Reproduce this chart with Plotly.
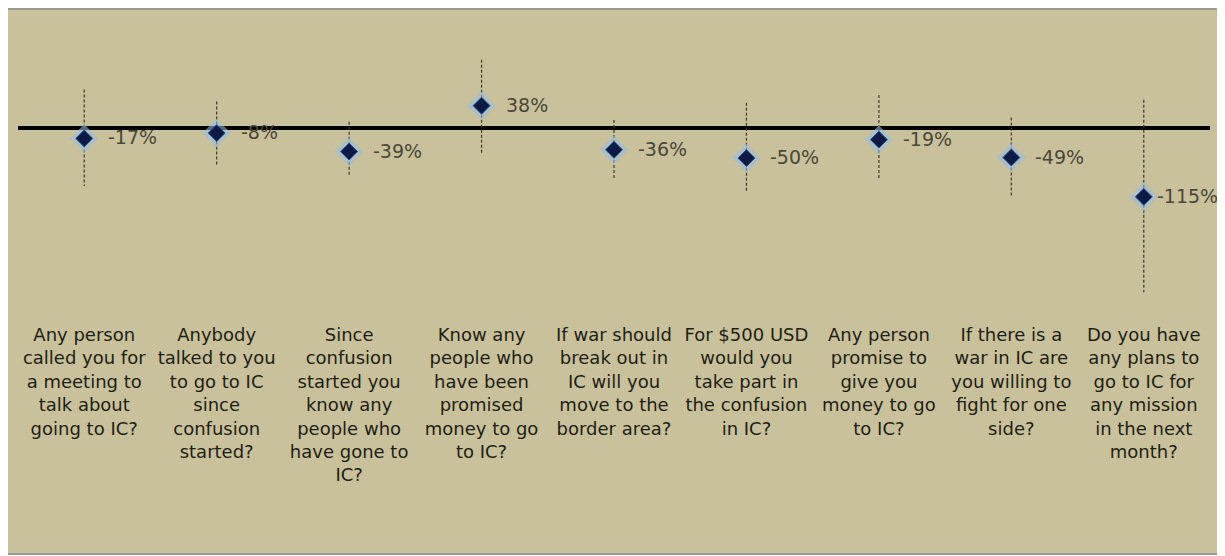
import plotly.graph_objects as go

# ---- data ----
categories = ["Q1", "Q2", "Q3", "Q4", "Q5", "Q6", "Q7", "Q8", "Q9"]
tick_labels = [
    "Any person<br>called you for<br>a meeting to<br>talk about<br>going to IC?",
    "Anybody<br>talked to you<br>to go to IC<br>since<br>confusion<br>started?",
    "Since<br>confusion<br>started you<br>know any<br>people who<br>have gone to<br>IC?",
    "Know any<br>people who<br>have been<br>promised<br>money to go<br>to IC?",
    "If war should<br>break out in<br>IC will you<br>move to the<br>border area?",
    "For $500 USD<br>would you<br>take part in<br>the confusion<br>in IC?",
    "Any person<br>promise to<br>give you<br>money to go<br>to IC?",
    "If there is a<br>war in IC are<br>you willing to<br>fight for one<br>side?",
    "Do you have<br>any plans to<br>go to IC for<br>any mission<br>in the next<br>month?",
]
values = [-17, -8, -39, 38, -36, -50, -19, -49, -115]
value_labels = ["-17%", "-8%", "-39%", "38%", "-36%", "-50%", "-19%", "-49%", "-115%"]
err_up = [82, 53, 50, 77, 50, 93, 75, 67, 163]
err_down = [80, 55, 42, 79, 50, 56, 67, 66, 160]

# ---- styles ----
TAN = "#c9c19c"
FONT = "DejaVu Sans"

fig = go.Figure()

# dashed error bars
ex, ey = [], []
for c, v, u, d in zip(categories, values, err_up, err_down):
    ex += [c, c, None]
    ey += [v + u, v - d, None]
fig.add_trace(go.Scatter(x=ex, y=ey, mode="lines",
                         line=dict(color="#3a3a2c", width=1.2, dash="3px,2px"),
                         hoverinfo="skip", showlegend=False))

# glow behind markers
fig.add_trace(go.Scatter(x=categories, y=values, mode="markers",
                         marker=dict(symbol="diamond", size=22, color="rgba(150,190,230,0.55)",
                                     line=dict(width=0)),
                         hoverinfo="skip", showlegend=False))
fig.add_trace(go.Scatter(x=categories, y=values, mode="markers",
                         marker=dict(symbol="diamond", size=13, color="#0c1a45",
                                     line=dict(width=1, color="#24508c")),
                         showlegend=False))

for i, (c, v, t) in enumerate(zip(categories, values, value_labels)):
    fig.add_annotation(x=c, y=v, text=t, showarrow=False, xanchor="left",
                       xshift=22 if i < len(categories) - 1 else 11, yshift=1,
                       font=dict(family=FONT, size=19, color="#4a4838"))

# background panel
fig.add_shape(type="rect", xref="paper", yref="paper",
              x0=-0.0117, x1=1.0092, y0=-0.813, y1=1.0727,
              fillcolor=TAN, line=dict(color="#9a9a94", width=2), layer="below")

fig.update_layout(
    width=1217, height=548,
    margin=dict(l=10, r=15, t=22, b=237),
    paper_bgcolor="white", plot_bgcolor="rgba(0,0,0,0)",
    showlegend=False,
    xaxis=dict(type="category", range=[-0.5, 8.5], tickvals=categories, ticktext=tick_labels,
               showgrid=False, zeroline=False, showline=False, ticks="",
               ticklabelstandoff=3,
               tickfont=dict(family=FONT, size=18, color="#1f1e14")),
    yaxis=dict(range=[-320, 165], showgrid=False, showticklabels=False, ticks="",
               zeroline=True, zerolinecolor="black", zerolinewidth=4, showline=False),
)

fig.write_html("out.html")
